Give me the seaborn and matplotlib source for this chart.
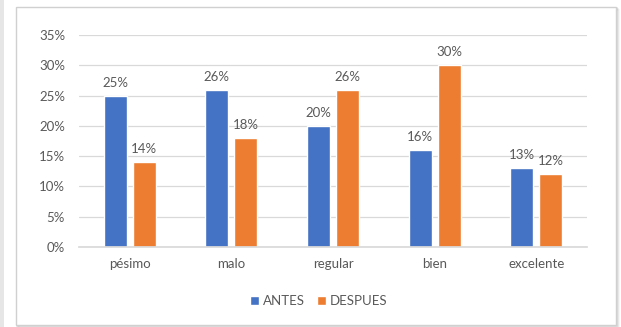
import matplotlib
matplotlib.use("Agg")
import matplotlib.pyplot as plt
import seaborn as sns
import pandas as pd
from matplotlib.patches import Rectangle
from matplotlib.ticker import MultipleLocator, FuncFormatter

categories = ["pésimo", "malo", "regular", "bien", "excelente"]
antes = [25, 26, 20, 16, 13]
despues = [14, 18, 26, 30, 12]
series_names = ["ANTES", "DESPUES"]
colors = ["#4472C4", "#ED7D31"]

df = pd.DataFrame({
    "categoria": categories * 2,
    "serie": [series_names[0]] * len(categories) + [series_names[1]] * len(categories),
    "valor": antes + despues,
})

sns.set_theme(style="white")
plt.rcParams["font.family"] = ["Lato", "DejaVu Sans"]
text_color = "#595959"

fig = plt.figure(figsize=(6.21, 3.27), dpi=100)
fig.patch.set_facecolor("white")

# chart frame with a soft shadow, kept behind the axes
for i, a in enumerate([0.10, 0.07, 0.04]):
    fig.add_artist(Rectangle((16 / 621 + (i + 1) / 621, 2 / 327 - (i + 1) / 327),
                             600 / 621, 318 / 327, transform=fig.transFigure,
                             facecolor="none", edgecolor="black", alpha=a, lw=1.2,
                             zorder=-3))
fig.add_artist(Rectangle((16 / 621, 2 / 327), 600 / 621, 318 / 327,
                         transform=fig.transFigure, facecolor="white",
                         edgecolor="#D0D0D0", lw=1.0, zorder=-2))
fig.add_artist(Rectangle((0, 0), 4 / 621, 1, transform=fig.transFigure,
                         facecolor="#E6E6E6", edgecolor="none", zorder=-2))

ax = fig.add_axes([79 / 621, 1 - 247 / 327, 508 / 621, 212 / 327])
ax.set_facecolor("none")

sns.barplot(data=df, x="categoria", y="valor", hue="serie", order=categories,
            hue_order=series_names, palette=colors, width=0.57, gap=0.21,
            ax=ax, legend=True, saturation=1)

ax.set_ylim(0, 35)
ax.set_xlim(-0.5, len(categories) - 0.5)
ax.yaxis.set_major_locator(MultipleLocator(5))
ax.yaxis.set_major_formatter(FuncFormatter(lambda v, p: f"{v:.0f}%"))
ax.grid(axis="y", color="#D9D9D9", lw=0.9)
ax.set_axisbelow(True)
for s in ["top", "right", "left"]:
    ax.spines[s].set_visible(False)
ax.spines["bottom"].set_color("#D9D9D9")
ax.set_xlabel("")
ax.set_ylabel("")
ax.tick_params(axis="both", length=0, colors=text_color, labelsize=9.5)
ax.tick_params(axis="x", pad=8)
ax.tick_params(axis="y", pad=10)

for cont in ax.containers:
    ax.bar_label(cont, labels=[f"{v:.0f}%" for v in cont.datavalues],
                 padding=5, color=text_color, fontsize=9.5)

leg = ax.legend(loc="upper center", bbox_to_anchor=(0.472, -0.17), ncol=2,
                frameon=False, fontsize=9.5, handlelength=0.7, handleheight=0.7,
                handletextpad=0.3, columnspacing=0.9, labelcolor=text_color)

fig.savefig("out.png", dpi=100)
